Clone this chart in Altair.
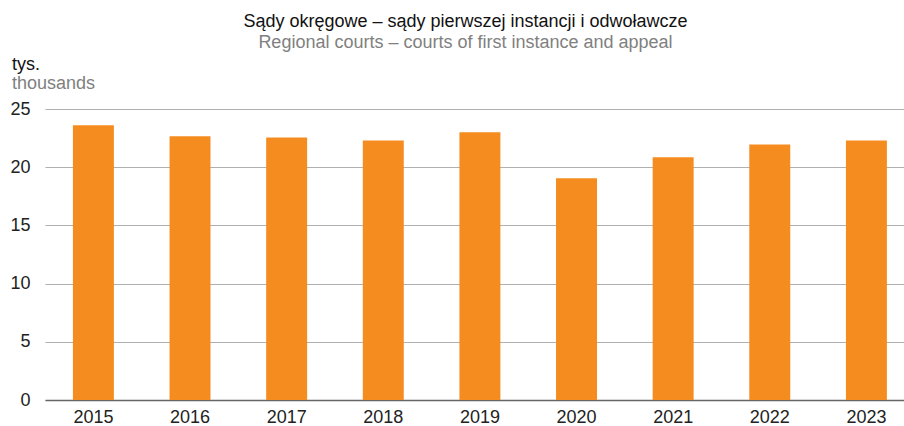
import altair as alt
import pandas as pd

years = ["2015", "2016", "2017", "2018", "2019", "2020", "2021", "2022", "2023"]
values = [23.6, 22.65, 22.56, 22.3, 23.0, 19.04, 20.85, 21.96, 22.3]

title_pl = "Sądy okręgowe – sądy pierwszej instancji i odwoławcze"
title_en = "Regional courts – courts of first instance and appeal"
unit_pl = "tys."
unit_en = "thousands"

df = pd.DataFrame({"year": years, "value": values})
one = pd.DataFrame({"k": [0]})

FONT = "Liberation Sans"

bars = alt.Chart(df).mark_bar(color="#F58C20").encode(
    x=alt.X("year:N", title=None,
            scale=alt.Scale(paddingInner=0.576, paddingOuter=0.233, align=0.62),
            axis=alt.Axis(labelAngle=0, ticks=False, domain=True, domainColor="#666666",
                          domainWidth=1.5, labelPadding=8, labelFontSize=18,
                          labelColor="#222222", labelFont=FONT, grid=False)),
    y=alt.Y("value:Q", title=None,
            scale=alt.Scale(domain=[0, 25], nice=False),
            axis=alt.Axis(values=[0, 5, 10, 15, 20, 25], domain=False, ticks=False,
                          labelPadding=15, labelFontSize=18, labelColor="#222222",
                          labelFont=FONT, grid=True, gridColor="#b0b0b0", gridWidth=1)),
)

unit1 = alt.Chart(one).mark_text(align="left", baseline="alphabetic", fontSize=18,
                                 font=FONT, color="#111111").encode(
    x=alt.value(-33), y=alt.value(-39), text=alt.value(unit_pl))
unit2 = alt.Chart(one).mark_text(align="left", baseline="alphabetic", fontSize=18,
                                 font=FONT, color="#808080").encode(
    x=alt.value(-33), y=alt.value(-20), text=alt.value(unit_en))

chart = alt.layer(bars, unit1, unit2).properties(
    width=859, height=291,
    autosize=alt.AutoSizeParams(type="none"),
    padding={"left": 45, "top": 109, "right": 0, "bottom": 26},
    title=alt.TitleParams(text=title_pl, subtitle=title_en, anchor="middle",
                          font=FONT, fontSize=18, fontWeight="normal", color="#111111",
                          subtitleFont=FONT, subtitleFontSize=18, subtitleColor="#808080",
                          subtitlePadding=3, offset=4, dx=-9),
).configure_view(stroke=None)

chart.save("out.html", embed_options={"renderer": "svg", "actions": False})
